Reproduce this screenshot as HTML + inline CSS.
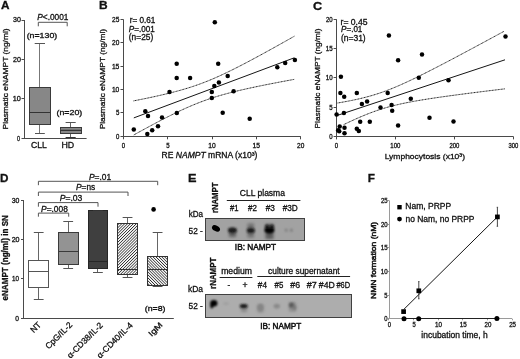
<!DOCTYPE html>
<html><head><meta charset="utf-8"><style>
html,body{margin:0;padding:0;background:#fff;}
body{width:520px;height:359px;overflow:hidden;}
svg{display:block;filter:blur(0.3px);}
text{font-family:"Liberation Sans", sans-serif;stroke:#111;stroke-width:0.3px;}
</style></head><body>
<svg width="520" height="359" viewBox="0 0 520 359">
<rect width="520" height="359" fill="#fff"/>
<text transform="translate(1.01,9.40) scale(1.059,1)" font-size="11.13" fill="#111" ><tspan font-weight="bold">A</tspan></text>
<text transform="translate(98.92,9.40) scale(1.075,1)" font-size="11.13" fill="#111" ><tspan font-weight="bold">B</tspan></text>
<text transform="translate(312.89,9.50) scale(1.139,1)" font-size="11.13" fill="#111" ><tspan font-weight="bold">C</tspan></text>
<text transform="translate(0.04,181.90) scale(1.052,1)" font-size="11.13" fill="#111" ><tspan font-weight="bold">D</tspan></text>
<text transform="translate(188.07,181.70) scale(1.145,1)" font-size="11.13" fill="#111" ><tspan font-weight="bold">E</tspan></text>
<text transform="translate(367.74,181.80) scale(1.057,1)" font-size="11.13" fill="#111" ><tspan font-weight="bold">F</tspan></text>
<line x1="24.50" y1="20.00" x2="24.50" y2="138.90" stroke="#4a4a4a" stroke-width="1" />
<line x1="23.50" y1="138.50" x2="86.60" y2="138.50" stroke="#4a4a4a" stroke-width="1" />
<line x1="21.50" y1="138.50" x2="24.00" y2="138.50" stroke="#4a4a4a" stroke-width="1" />
<line x1="21.50" y1="98.50" x2="24.00" y2="98.50" stroke="#4a4a4a" stroke-width="1" />
<line x1="21.50" y1="59.50" x2="24.00" y2="59.50" stroke="#4a4a4a" stroke-width="1" />
<line x1="21.50" y1="20.50" x2="24.00" y2="20.50" stroke="#4a4a4a" stroke-width="1" />
<text transform="translate(13.02,22.40) scale(1.046,1)" font-size="6.74" fill="#111" ><tspan>30</tspan></text>
<text transform="translate(12.94,61.87) scale(1.057,1)" font-size="6.74" fill="#111" ><tspan>20</tspan></text>
<text transform="translate(12.75,101.33) scale(1.083,1)" font-size="6.74" fill="#111" ><tspan>10</tspan></text>
<text transform="translate(16.98,140.80) scale(0.804,1)" font-size="6.74" fill="#111" ><tspan>0</tspan></text>
<line x1="39.50" y1="43.30" x2="39.50" y2="87.10" stroke="#777" stroke-width="1" />
<line x1="34.70" y1="43.50" x2="45.00" y2="43.50" stroke="#555" stroke-width="1" />
<line x1="39.50" y1="124.80" x2="39.50" y2="133.70" stroke="#777" stroke-width="1" />
<line x1="35.00" y1="133.50" x2="44.80" y2="133.50" stroke="#555" stroke-width="1" />
<rect x="29.5" y="87.5" width="21.0" height="37.0" fill="#878787" stroke="#3a3a3a" stroke-width="1" />
<line x1="29.30" y1="112.50" x2="50.30" y2="112.50" stroke="#333" stroke-width="1" />
<line x1="70.50" y1="122.00" x2="70.50" y2="127.50" stroke="#666" stroke-width="1" />
<line x1="65.60" y1="122.50" x2="75.70" y2="122.50" stroke="#555" stroke-width="1" />
<line x1="70.50" y1="133.40" x2="70.50" y2="138.00" stroke="#666" stroke-width="1" />
<line x1="65.60" y1="137.50" x2="75.70" y2="137.50" stroke="#333" stroke-width="1" />
<rect x="60.5" y="127.5" width="21.0" height="6.0" fill="#878787" stroke="#3a3a3a" stroke-width="1" />
<line x1="60.40" y1="130.50" x2="81.20" y2="130.50" stroke="#333" stroke-width="1" />
<line x1="60.40" y1="129.50" x2="81.20" y2="129.50" stroke="#666" stroke-width="0.6" />
<text transform="translate(26.67,37.90) scale(1.176,1)" font-size="7.49" fill="#111" ><tspan>(n=130)</tspan></text>
<text transform="translate(56.47,115.20) scale(1.180,1)" font-size="7.49" fill="#111" ><tspan>(n=20)</tspan></text>
<text transform="translate(37.25,19.80) scale(0.937,1)" font-size="8.88" fill="#111" ><tspan font-style="italic">P</tspan><tspan>&lt;.0001</tspan></text>
<path d="M38.3,26.3 V22.3 H67.2 V26.3" stroke="#555" stroke-width="1" fill="none" />
<text transform="translate(31.07,148.00) scale(1.012,1)" font-size="8.56" fill="#111" ><tspan>CLL</tspan></text>
<text transform="translate(61.39,148.00) scale(1.031,1)" font-size="8.56" fill="#111" ><tspan>HD</tspan></text>
<text transform="translate(7.60,129.47) rotate(-90) scale(1.060,1)" font-size="7.92" fill="#111"><tspan>Plasmatic eNAMPT (ng/ml)</tspan></text>
<line x1="123.50" y1="19.30" x2="123.50" y2="136.90" stroke="#4a4a4a" stroke-width="1" />
<line x1="122.80" y1="136.50" x2="300.80" y2="136.50" stroke="#4a4a4a" stroke-width="1" />
<line x1="120.50" y1="136.50" x2="123.30" y2="136.50" stroke="#4a4a4a" stroke-width="1" />
<text transform="translate(115.96,138.90) scale(0.896,1)" font-size="6.74" fill="#111" ><tspan>0</tspan></text>
<line x1="120.50" y1="112.50" x2="123.30" y2="112.50" stroke="#4a4a4a" stroke-width="1" />
<text transform="translate(115.96,115.48) scale(0.906,1)" font-size="6.74" fill="#111" ><tspan>5</tspan></text>
<line x1="120.50" y1="89.50" x2="123.30" y2="89.50" stroke="#4a4a4a" stroke-width="1" />
<text transform="translate(111.90,92.06) scale(0.994,1)" font-size="6.74" fill="#111" ><tspan>10</tspan></text>
<line x1="120.50" y1="66.50" x2="123.30" y2="66.50" stroke="#4a4a4a" stroke-width="1" />
<text transform="translate(111.89,68.64) scale(0.999,1)" font-size="6.74" fill="#111" ><tspan>15</tspan></text>
<line x1="120.50" y1="42.50" x2="123.30" y2="42.50" stroke="#4a4a4a" stroke-width="1" />
<text transform="translate(112.07,45.22) scale(0.970,1)" font-size="6.74" fill="#111" ><tspan>20</tspan></text>
<line x1="120.50" y1="19.50" x2="123.30" y2="19.50" stroke="#4a4a4a" stroke-width="1" />
<text transform="translate(112.07,21.80) scale(0.975,1)" font-size="6.74" fill="#111" ><tspan>25</tspan></text>
<line x1="123.50" y1="136.40" x2="123.50" y2="139.30" stroke="#4a4a4a" stroke-width="1" />
<text transform="translate(121.81,147.70) scale(0.896,1)" font-size="6.74" fill="#111" ><tspan>0</tspan></text>
<line x1="167.50" y1="136.40" x2="167.50" y2="139.30" stroke="#4a4a4a" stroke-width="1" />
<text transform="translate(166.13,147.70) scale(0.906,1)" font-size="6.74" fill="#111" ><tspan>5</tspan></text>
<line x1="212.50" y1="136.40" x2="212.50" y2="139.30" stroke="#4a4a4a" stroke-width="1" />
<text transform="translate(208.30,147.70) scale(0.994,1)" font-size="6.74" fill="#111" ><tspan>10</tspan></text>
<line x1="256.50" y1="136.40" x2="256.50" y2="139.30" stroke="#4a4a4a" stroke-width="1" />
<text transform="translate(252.62,147.70) scale(0.999,1)" font-size="6.74" fill="#111" ><tspan>15</tspan></text>
<line x1="300.50" y1="136.40" x2="300.50" y2="139.30" stroke="#4a4a4a" stroke-width="1" />
<text transform="translate(297.12,147.70) scale(0.970,1)" font-size="6.74" fill="#111" ><tspan>20</tspan></text>
<text transform="translate(161.62,158.00) scale(1.050,1)" font-size="8.13" fill="#111" ><tspan>RE </tspan><tspan font-style="italic">NAMPT</tspan><tspan> mRNA (x10³)</tspan></text>
<text transform="translate(129.67,23.10) scale(0.969,1)" font-size="8.45" fill="#111" ><tspan>r= 0.61</tspan></text>
<text transform="translate(128.76,31.60) scale(0.959,1)" font-size="8.45" fill="#111" ><tspan font-style="italic">P</tspan><tspan>=.001</tspan></text>
<text transform="translate(128.80,40.30) scale(0.991,1)" font-size="8.45" fill="#111" ><tspan>(n=25)</tspan></text>
<text transform="translate(105.00,129.37) rotate(-90) scale(1.057,1)" font-size="7.92" fill="#111"><tspan>Plasmatic eNAMPT (ng/ml)</tspan></text>
<path d="M133.8,117.90 L294.4,57.76" stroke="#151515" stroke-width="1.0" fill="none" />
<path d="M133.50,100.91 L136.18,100.38 L138.86,99.85 L141.54,99.31 L144.23,98.76 L146.91,98.21 L149.59,97.65 L152.27,97.07 L154.95,96.49 L157.63,95.90 L160.32,95.29 L163.00,94.67 L165.68,94.04 L168.36,93.39 L171.04,92.73 L173.72,92.04 L176.41,91.34 L179.09,90.61 L181.77,89.86 L184.45,89.08 L187.13,88.27 L189.81,87.43 L192.50,86.57 L195.18,85.67 L197.86,84.73 L200.54,83.76 L203.22,82.76 L205.90,81.72 L208.59,80.65 L211.27,79.54 L213.95,78.40 L216.63,77.23 L219.31,76.03 L221.99,74.80 L224.68,73.54 L227.36,72.26 L230.04,70.96 L232.72,69.64 L235.40,68.29 L238.08,66.93 L240.77,65.56 L243.45,64.17 L246.13,62.77 L248.81,61.35 L251.49,59.92 L254.17,58.49 L256.86,57.04 L259.54,55.59 L262.22,54.13 L264.90,52.66 L267.58,51.19 L270.26,49.71 L272.95,48.22 L275.63,46.73 L278.31,45.24 L280.99,43.74 L283.67,42.23 L286.36,40.73 L289.04,39.22 L291.72,37.70 L294.40,36.19" stroke="#1a1a1a" stroke-width="1.0" fill="none" stroke-dasharray="1.0,0.5"/>
<path d="M133.80,134.95 L136.48,133.47 L139.15,132.00 L141.83,130.53 L144.51,129.08 L147.18,127.63 L149.86,126.18 L152.54,124.75 L155.21,123.33 L157.89,121.92 L160.57,120.52 L163.24,119.13 L165.92,117.76 L168.60,116.41 L171.27,115.07 L173.95,113.75 L176.63,112.45 L179.30,111.17 L181.98,109.92 L184.66,108.70 L187.33,107.50 L190.01,106.33 L192.69,105.20 L195.36,104.09 L198.04,103.02 L200.72,101.99 L203.39,100.99 L206.07,100.02 L208.75,99.09 L211.42,98.19 L214.10,97.33 L216.78,96.50 L219.45,95.69 L222.13,94.92 L224.81,94.17 L227.48,93.44 L230.16,92.74 L232.84,92.05 L235.51,91.39 L238.19,90.74 L240.87,90.11 L243.54,89.49 L246.22,88.89 L248.90,88.30 L251.57,87.72 L254.25,87.15 L256.93,86.58 L259.60,86.03 L262.28,85.48 L264.96,84.94 L267.63,84.41 L270.31,83.89 L272.99,83.36 L275.66,82.85 L278.34,82.33 L281.02,81.83 L283.69,81.32 L286.37,80.82 L289.05,80.32 L291.72,79.83 L294.40,79.34" stroke="#1a1a1a" stroke-width="1.0" fill="none" stroke-dasharray="1.0,0.5"/>
<circle cx="214.8" cy="22.2" r="2.25" fill="#000"/>
<circle cx="176.7" cy="63.8" r="2.25" fill="#000"/>
<circle cx="218.2" cy="63.8" r="2.25" fill="#000"/>
<circle cx="176.7" cy="77.9" r="2.25" fill="#000"/>
<circle cx="190.1" cy="77.9" r="2.25" fill="#000"/>
<circle cx="227.7" cy="75.9" r="2.25" fill="#000"/>
<circle cx="218.9" cy="82.6" r="2.25" fill="#000"/>
<circle cx="214.3" cy="85.9" r="2.25" fill="#000"/>
<circle cx="169.5" cy="92.1" r="2.25" fill="#000"/>
<circle cx="211.8" cy="92.1" r="2.25" fill="#000"/>
<circle cx="233.6" cy="91.3" r="2.25" fill="#000"/>
<circle cx="211.8" cy="98.1" r="2.25" fill="#000"/>
<circle cx="176.8" cy="113.1" r="2.25" fill="#000"/>
<circle cx="222.7" cy="112.8" r="2.25" fill="#000"/>
<circle cx="162.0" cy="117.6" r="2.25" fill="#000"/>
<circle cx="145.3" cy="111.3" r="2.25" fill="#000"/>
<circle cx="148.0" cy="116.1" r="2.25" fill="#000"/>
<circle cx="133.8" cy="129.4" r="2.25" fill="#000"/>
<circle cx="147.3" cy="134.0" r="2.25" fill="#000"/>
<circle cx="152.2" cy="130.2" r="2.25" fill="#000"/>
<circle cx="158.0" cy="126.3" r="2.25" fill="#000"/>
<circle cx="249.7" cy="118.8" r="2.25" fill="#000"/>
<circle cx="277.3" cy="67.3" r="2.25" fill="#000"/>
<circle cx="285.2" cy="63.0" r="2.25" fill="#000"/>
<circle cx="294.9" cy="60.1" r="2.25" fill="#000"/>
<line x1="336.50" y1="19.20" x2="336.50" y2="137.00" stroke="#4a4a4a" stroke-width="1" />
<line x1="335.90" y1="136.50" x2="513.50" y2="136.50" stroke="#4a4a4a" stroke-width="1" />
<line x1="333.60" y1="136.50" x2="336.40" y2="136.50" stroke="#4a4a4a" stroke-width="1" />
<text transform="translate(329.36,138.90) scale(0.896,1)" font-size="6.74" fill="#111" ><tspan>0</tspan></text>
<line x1="333.60" y1="107.50" x2="336.40" y2="107.50" stroke="#4a4a4a" stroke-width="1" />
<text transform="translate(329.36,109.58) scale(0.906,1)" font-size="6.74" fill="#111" ><tspan>5</tspan></text>
<line x1="333.60" y1="77.50" x2="336.40" y2="77.50" stroke="#4a4a4a" stroke-width="1" />
<text transform="translate(325.84,80.25) scale(0.920,1)" font-size="6.74" fill="#111" ><tspan>10</tspan></text>
<line x1="333.60" y1="48.50" x2="336.40" y2="48.50" stroke="#4a4a4a" stroke-width="1" />
<text transform="translate(325.83,50.93) scale(0.925,1)" font-size="6.74" fill="#111" ><tspan>15</tspan></text>
<line x1="333.60" y1="19.50" x2="336.40" y2="19.50" stroke="#4a4a4a" stroke-width="1" />
<text transform="translate(326.00,21.60) scale(0.897,1)" font-size="6.74" fill="#111" ><tspan>20</tspan></text>
<line x1="336.50" y1="136.60" x2="336.50" y2="139.40" stroke="#4a4a4a" stroke-width="1" />
<text transform="translate(334.71,147.50) scale(0.896,1)" font-size="6.74" fill="#111" ><tspan>0</tspan></text>
<line x1="395.50" y1="136.60" x2="395.50" y2="139.40" stroke="#4a4a4a" stroke-width="1" />
<text transform="translate(390.28,147.50) scale(0.897,1)" font-size="6.74" fill="#111" ><tspan>100</tspan></text>
<line x1="454.50" y1="136.60" x2="454.50" y2="139.40" stroke="#4a4a4a" stroke-width="1" />
<text transform="translate(449.47,147.50) scale(0.883,1)" font-size="6.74" fill="#111" ><tspan>200</tspan></text>
<line x1="513.50" y1="136.60" x2="513.50" y2="139.40" stroke="#4a4a4a" stroke-width="1" />
<text transform="translate(508.56,147.50) scale(0.877,1)" font-size="6.74" fill="#111" ><tspan>300</tspan></text>
<text transform="translate(384.72,158.80) scale(1.045,1)" font-size="8.13" fill="#111" ><tspan>Lymphocytosis (x10³)</tspan></text>
<text transform="translate(340.54,24.80) scale(1.018,1)" font-size="8.45" fill="#111" ><tspan>r= 0.45</tspan></text>
<text transform="translate(341.06,32.20) scale(0.954,1)" font-size="8.45" fill="#111" ><tspan font-style="italic">P</tspan><tspan>=.01</tspan></text>
<text transform="translate(340.89,41.10) scale(1.008,1)" font-size="8.45" fill="#111" ><tspan>(n=31)</tspan></text>
<text transform="translate(320.00,128.46) rotate(-90) scale(1.049,1)" font-size="7.92" fill="#111"><tspan>Plasmatic eNAMPT (ng/ml)</tspan></text>
<path d="M337,115.50 L505,59.80" stroke="#151515" stroke-width="1.0" fill="none" />
<path d="M337.50,103.03 L340.27,102.56 L343.05,102.07 L345.82,101.56 L348.60,101.04 L351.38,100.49 L354.15,99.92 L356.93,99.32 L359.70,98.69 L362.48,98.03 L365.25,97.34 L368.02,96.61 L370.80,95.84 L373.57,95.02 L376.35,94.17 L379.12,93.26 L381.90,92.31 L384.68,91.32 L387.45,90.29 L390.23,89.21 L393.00,88.09 L395.77,86.94 L398.55,85.75 L401.32,84.53 L404.10,83.28 L406.88,82.00 L409.65,80.71 L412.43,79.39 L415.20,78.05 L417.98,76.70 L420.75,75.33 L423.52,73.94 L426.30,72.55 L429.07,71.14 L431.85,69.73 L434.62,68.31 L437.40,66.87 L440.18,65.43 L442.95,63.99 L445.73,62.54 L448.50,61.08 L451.27,59.62 L454.05,58.16 L456.82,56.69 L459.60,55.21 L462.38,53.74 L465.15,52.26 L467.93,50.77 L470.70,49.29 L473.48,47.80 L476.25,46.31 L479.02,44.82 L481.80,43.33 L484.57,41.83 L487.35,40.33 L490.12,38.83 L492.90,37.33 L495.68,35.83 L498.45,34.33 L501.23,32.82 L504.00,31.32" stroke="#1a1a1a" stroke-width="1.0" fill="none" stroke-dasharray="1.0,0.5"/>
<path d="M343.70,124.60 L346.39,123.32 L349.08,122.05 L351.76,120.80 L354.45,119.57 L357.14,118.37 L359.83,117.20 L362.52,116.06 L365.21,114.94 L367.89,113.87 L370.58,112.83 L373.27,111.83 L375.96,110.88 L378.65,109.96 L381.34,109.09 L384.02,108.26 L386.71,107.47 L389.40,106.72 L392.09,106.01 L394.78,105.33 L397.47,104.69 L400.15,104.08 L402.84,103.49 L405.53,102.93 L408.22,102.40 L410.91,101.88 L413.60,101.38 L416.28,100.90 L418.97,100.44 L421.66,99.99 L424.35,99.55 L427.04,99.12 L429.73,98.70 L432.41,98.29 L435.10,97.89 L437.79,97.49 L440.48,97.11 L443.17,96.72 L445.86,96.35 L448.55,95.98 L451.23,95.61 L453.92,95.25 L456.61,94.89 L459.30,94.53 L461.99,94.18 L464.68,93.83 L467.36,93.48 L470.05,93.14 L472.74,92.80 L475.43,92.46 L478.12,92.12 L480.81,91.78 L483.49,91.45 L486.18,91.12 L488.87,90.78 L491.56,90.45 L494.25,90.13 L496.94,89.80 L499.62,89.47 L502.31,89.15 L505.00,88.82" stroke="#1a1a1a" stroke-width="1.0" fill="none" stroke-dasharray="1.0,0.5"/>
<circle cx="388.9" cy="35.6" r="2.25" fill="#000"/>
<circle cx="398.1" cy="60.3" r="2.25" fill="#000"/>
<circle cx="422.0" cy="54.5" r="2.25" fill="#000"/>
<circle cx="418.8" cy="77.8" r="2.25" fill="#000"/>
<circle cx="448.5" cy="80.3" r="2.25" fill="#000"/>
<circle cx="505.5" cy="36.6" r="2.25" fill="#000"/>
<circle cx="410.8" cy="98.8" r="2.25" fill="#000"/>
<circle cx="429.5" cy="117.7" r="2.25" fill="#000"/>
<circle cx="453.5" cy="121.6" r="2.25" fill="#000"/>
<circle cx="340.9" cy="76.7" r="2.25" fill="#000"/>
<circle cx="340.4" cy="93.1" r="2.25" fill="#000"/>
<circle cx="344.2" cy="96.8" r="2.25" fill="#000"/>
<circle cx="356.8" cy="93.1" r="2.25" fill="#000"/>
<circle cx="387.7" cy="93.1" r="2.25" fill="#000"/>
<circle cx="367.1" cy="101.6" r="2.25" fill="#000"/>
<circle cx="361.9" cy="103.9" r="2.25" fill="#000"/>
<circle cx="380.5" cy="107.4" r="2.25" fill="#000"/>
<circle cx="391.6" cy="105.1" r="2.25" fill="#000"/>
<circle cx="392.2" cy="110.8" r="2.25" fill="#000"/>
<circle cx="336.6" cy="114.5" r="2.25" fill="#000"/>
<circle cx="343.9" cy="113.1" r="2.25" fill="#000"/>
<circle cx="339.7" cy="126.4" r="2.25" fill="#000"/>
<circle cx="338.2" cy="130.3" r="2.25" fill="#000"/>
<circle cx="339.2" cy="131.3" r="2.25" fill="#000"/>
<circle cx="344.5" cy="127.8" r="2.25" fill="#000"/>
<circle cx="344.5" cy="133.3" r="2.25" fill="#000"/>
<circle cx="360.2" cy="121.7" r="2.25" fill="#000"/>
<circle cx="369.8" cy="121.7" r="2.25" fill="#000"/>
<circle cx="356.8" cy="128.8" r="2.25" fill="#000"/>
<circle cx="358.8" cy="130.9" r="2.25" fill="#000"/>
<circle cx="398.1" cy="125.6" r="2.25" fill="#000"/>
<line x1="23.50" y1="200.10" x2="23.50" y2="318.80" stroke="#4a4a4a" stroke-width="1" />
<line x1="23.20" y1="318.50" x2="173.80" y2="318.50" stroke="#4a4a4a" stroke-width="1" />
<line x1="21.00" y1="318.50" x2="23.70" y2="318.50" stroke="#4a4a4a" stroke-width="1" />
<line x1="21.00" y1="278.50" x2="23.70" y2="278.50" stroke="#4a4a4a" stroke-width="1" />
<line x1="21.00" y1="239.50" x2="23.70" y2="239.50" stroke="#4a4a4a" stroke-width="1" />
<line x1="21.00" y1="200.50" x2="23.70" y2="200.50" stroke="#4a4a4a" stroke-width="1" />
<text transform="translate(11.72,202.50) scale(1.032,1)" font-size="6.74" fill="#111" ><tspan>30</tspan></text>
<text transform="translate(11.64,241.90) scale(1.057,1)" font-size="6.74" fill="#111" ><tspan>20</tspan></text>
<text transform="translate(12.03,281.30) scale(0.935,1)" font-size="6.74" fill="#111" ><tspan>10</tspan></text>
<text transform="translate(15.33,320.70) scale(0.989,1)" font-size="6.74" fill="#111" ><tspan>0</tspan></text>
<text transform="translate(7.70,300.52) rotate(-90) scale(0.996,1)" font-size="8.13" fill="#111"><tspan font-weight="bold">eNAMPT (ng/ml) in SN</tspan></text>
<defs>
<pattern id="h1" patternUnits="userSpaceOnUse" width="2.05" height="2.05" patternTransform="rotate(45)">
<rect width="2.05" height="2.05" fill="#fff"/><rect x="0" width="0.75" height="2.05" fill="#2a2a2a"/></pattern>
<pattern id="h2" patternUnits="userSpaceOnUse" width="2.05" height="2.05" patternTransform="rotate(-45)">
<rect width="2.05" height="2.05" fill="#fff"/><rect x="0" width="0.75" height="2.05" fill="#2a2a2a"/></pattern>
<filter id="blur05" x="-50%" y="-50%" width="200%" height="200%"><feGaussianBlur stdDeviation="0.45"/></filter>
<filter id="blur1" x="-50%" y="-50%" width="200%" height="200%"><feGaussianBlur stdDeviation="0.8"/></filter>
<filter id="blur2" x="-50%" y="-50%" width="200%" height="200%"><feGaussianBlur stdDeviation="1.4"/></filter>
</defs>
<line x1="38.50" y1="232.30" x2="38.50" y2="260.60" stroke="#666" stroke-width="1" />
<line x1="33.80" y1="232.50" x2="43.60" y2="232.50" stroke="#555" stroke-width="1" />
<line x1="38.50" y1="287.90" x2="38.50" y2="299.50" stroke="#666" stroke-width="1" />
<line x1="33.80" y1="299.50" x2="43.60" y2="299.50" stroke="#555" stroke-width="1" />
<rect x="28.5" y="260.5" width="20.0" height="27.0" fill="#fff" stroke="#555" stroke-width="1" />
<line x1="28.80" y1="271.50" x2="48.60" y2="271.50" stroke="#555" stroke-width="1" />
<line x1="68.50" y1="221.80" x2="68.50" y2="232.20" stroke="#666" stroke-width="1" />
<line x1="63.30" y1="221.50" x2="73.10" y2="221.50" stroke="#555" stroke-width="1" />
<line x1="68.50" y1="264.50" x2="68.50" y2="268.40" stroke="#666" stroke-width="1" />
<line x1="63.30" y1="268.50" x2="73.10" y2="268.50" stroke="#555" stroke-width="1" />
<rect x="58.5" y="232.5" width="20.0" height="32.0" fill="#939393" stroke="#3a3a3a" stroke-width="1" />
<line x1="58.20" y1="251.50" x2="78.20" y2="251.50" stroke="#3a3a3a" stroke-width="1" />
<line x1="97.50" y1="268.40" x2="97.50" y2="272.20" stroke="#666" stroke-width="1" />
<line x1="93.00" y1="272.50" x2="102.80" y2="272.50" stroke="#555" stroke-width="1" />
<rect x="88.5" y="210.5" width="19.0" height="58.0" fill="#3f3f3f" stroke="#262626" stroke-width="1" />
<line x1="88.00" y1="261.50" x2="107.80" y2="261.50" stroke="#262626" stroke-width="1" />
<line x1="93.00" y1="210.50" x2="102.80" y2="210.50" stroke="#333" stroke-width="1" />
<line x1="127.50" y1="217.10" x2="127.50" y2="223.80" stroke="#666" stroke-width="1" />
<line x1="122.65" y1="217.50" x2="132.45" y2="217.50" stroke="#555" stroke-width="1" />
<line x1="127.50" y1="274.20" x2="127.50" y2="277.30" stroke="#666" stroke-width="1" />
<line x1="122.65" y1="277.50" x2="132.45" y2="277.50" stroke="#555" stroke-width="1" />
<rect x="117.5" y="223.5" width="20.0" height="51.0" fill="url(#h1)" stroke="#333" stroke-width="1" />
<line x1="117.50" y1="269.50" x2="137.60" y2="269.50" stroke="#333" stroke-width="1" />
<line x1="157.50" y1="232.60" x2="157.50" y2="256.40" stroke="#666" stroke-width="1" />
<line x1="152.70" y1="232.50" x2="162.50" y2="232.50" stroke="#555" stroke-width="1" />
<line x1="157.50" y1="285.50" x2="157.50" y2="286.70" stroke="#666" stroke-width="1" />
<line x1="152.70" y1="286.50" x2="162.50" y2="286.50" stroke="#555" stroke-width="1" />
<rect x="147.5" y="256.5" width="20.0" height="29.0" fill="url(#h2)" stroke="#333" stroke-width="1" />
<line x1="147.60" y1="269.50" x2="167.60" y2="269.50" stroke="#333" stroke-width="1" />
<circle cx="153.6" cy="209.4" r="2.3" fill="#000"/>
<path d="M38.4,185.2 V181.3 H157.7 V185.2" stroke="#555" stroke-width="1" fill="none" />
<path d="M38.4,196.0 V192.1 H128.0 V196.0" stroke="#555" stroke-width="1" fill="none" />
<path d="M38.4,206.7 V202.6 H98.0 V206.7" stroke="#555" stroke-width="1" fill="none" />
<path d="M38.4,216.7 V213.1 H68.7 V216.7" stroke="#555" stroke-width="1" fill="none" />
<text transform="translate(88.95,179.60) scale(1.008,1)" font-size="8.35" fill="#111" ><tspan font-style="italic">P</tspan><tspan>=.01</tspan></text>
<text transform="translate(76.05,190.40) scale(0.999,1)" font-size="8.35" fill="#111" ><tspan font-style="italic">P</tspan><tspan>=ns</tspan></text>
<text transform="translate(59.74,201.40) scale(1.024,1)" font-size="8.35" fill="#111" ><tspan font-style="italic">P</tspan><tspan>=.03</tspan></text>
<text transform="translate(41.05,212.40) scale(1.003,1)" font-size="8.35" fill="#111" ><tspan font-style="italic">P</tspan><tspan>=.008</tspan></text>
<text transform="translate(144.77,311.10) scale(1.174,1)" font-size="7.49" fill="#111" ><tspan>(n=8)</tspan></text>
<text transform="translate(33.71,333.37) rotate(-45) scale(0.990,1)" font-size="8.5" fill="#111">NT</text>
<text transform="translate(48.69,349.60) rotate(-45) scale(0.990,1)" font-size="8.5" fill="#111">CpG/IL-2</text>
<text transform="translate(70.54,358.67) rotate(-45) scale(1.000,1)" font-size="8.5" fill="#111">α-CD38/IL-2</text>
<text transform="translate(100.37,358.69) rotate(-45) scale(1.000,1)" font-size="8.5" fill="#111">α-CD40/IL-4</text>
<text transform="translate(151.44,336.95) rotate(-45) scale(1.250,1)" font-size="7.9" fill="#111">IgM</text>
<rect x="205.5" y="218.5" width="99.0" height="22.0" fill="#a2a2a2" stroke="#404040" stroke-width="1.0" />
<g filter="url(#blur2)">
<rect x="229" y="229" width="7" height="8" fill="#5e5e5e"/>
<rect x="247.5" y="223.5" width="6.5" height="14" fill="#6e6e6e"/>
<rect x="265.5" y="224" width="8" height="15" fill="#5a5a5a"/>
</g>
<g filter="url(#blur1)">
</g><g filter="url(#blur05)">
<ellipse cx="216.0" cy="228.4" rx="4.3" ry="2.8" transform="rotate(28 216 228.4)" fill="#000"/>
</g><g filter="url(#blur1)">
<ellipse cx="232.4" cy="230.2" rx="4.4" ry="2.7" fill="#1c1c1c"/>
<ellipse cx="250.8" cy="230.6" rx="4.0" ry="2.5" fill="#1a1a1a"/>
<ellipse cx="269.4" cy="230.2" rx="4.9" ry="3.3" fill="#000"/>
<ellipse cx="267" cy="227" rx="1.8" ry="2.5" fill="#111"/>
<ellipse cx="272" cy="227" rx="1.8" ry="2.5" fill="#111"/>
<ellipse cx="286.2" cy="230.2" rx="1.6" ry="1.6" fill="#838383"/>
<ellipse cx="291.4" cy="230.2" rx="1.5" ry="1.7" fill="#808080"/>
</g>
<text transform="translate(188.68,216.60) scale(0.943,1)" font-size="8.56" fill="#111" ><tspan>kDa</tspan></text>
<text transform="translate(188.57,233.60) scale(0.969,1)" font-size="8.56" fill="#111" ><tspan>52 -</tspan></text>
<text transform="translate(218.40,213.11) rotate(-90) scale(0.897,1)" font-size="8.67" fill="#111"><tspan font-weight="bold">rNAMPT</tspan></text>
<text transform="translate(239.87,196.10) scale(1.020,1)" font-size="8.35" fill="#111" ><tspan>CLL plasma</tspan></text>
<line x1="226.80" y1="200.50" x2="300.40" y2="200.50" stroke="#222" stroke-width="1" />
<text transform="translate(229.96,211.00) scale(0.882,1)" font-size="8.77" fill="#111" ><tspan>#1</tspan></text>
<text transform="translate(248.06,211.00) scale(0.919,1)" font-size="8.77" fill="#111" ><tspan>#2</tspan></text>
<text transform="translate(265.76,211.00) scale(0.942,1)" font-size="8.77" fill="#111" ><tspan>#3</tspan></text>
<text transform="translate(282.66,211.00) scale(0.942,1)" font-size="8.77" fill="#111" ><tspan>#3D</tspan></text>
<text transform="translate(234.86,250.40) scale(0.930,1)" font-size="8.88" fill="#111" style="stroke-width:0.5px" ><tspan>IB: NAMPT</tspan></text>
<rect x="205.5" y="294.5" width="146.0" height="23.0" fill="#adadad" stroke="#404040" stroke-width="1.0" />
<g filter="url(#blur2)">
<rect x="241" y="306" width="6" height="6" fill="#888"/>
<rect x="257.5" y="304.5" width="6" height="8" fill="#8c8c8c"/>
<rect x="289" y="302.5" width="7" height="9" fill="#8a8a8a"/>
</g>
<g filter="url(#blur1)">
<ellipse cx="213.8" cy="303.2" rx="3.6" ry="3.3" fill="#000"/>
<ellipse cx="211.8" cy="305.8" rx="1.6" ry="2.6" fill="#000"/>
<ellipse cx="243.7" cy="305.9" rx="4.0" ry="2.0" fill="#151515"/>
<ellipse cx="226.0" cy="303.6" rx="3" ry="1.5" fill="#a0a0a0"/>
<ellipse cx="260.4" cy="307.5" rx="3.0" ry="3.4" fill="#858585"/>
<ellipse cx="276.8" cy="306.2" rx="3.2" ry="2.4" fill="#8a8a8a"/>
<ellipse cx="291.5" cy="305.0" rx="2.5" ry="2.6" fill="#5a5a5a"/>
<ellipse cx="294.5" cy="307.5" rx="1.8" ry="2.6" fill="#7a7a7a"/>
</g>
<text transform="translate(187.95,292.00) scale(0.991,1)" font-size="8.56" fill="#111" ><tspan>kDa</tspan></text>
<text transform="translate(188.57,309.40) scale(0.969,1)" font-size="8.56" fill="#111" ><tspan>52 -</tspan></text>
<text transform="translate(215.50,288.92) rotate(-90) scale(0.915,1)" font-size="8.67" fill="#111"><tspan font-weight="bold">rNAMPT</tspan></text>
<text transform="translate(221.14,273.80) scale(1.037,1)" font-size="8.35" fill="#111" ><tspan>medium</tspan></text>
<line x1="219.60" y1="277.50" x2="252.40" y2="277.50" stroke="#222" stroke-width="1" />
<text transform="translate(227.43,288.00) scale(0.978,1)" font-size="8.35" fill="#111" ><tspan>-</tspan></text>
<text transform="translate(242.57,288.20) scale(1.037,1)" font-size="8.35" fill="#111" ><tspan>+</tspan></text>
<text transform="translate(268.07,273.80) scale(1.003,1)" font-size="8.35" fill="#111" ><tspan>culture supernatant</tspan></text>
<line x1="257.30" y1="276.50" x2="350.10" y2="276.50" stroke="#222" stroke-width="1" />
<text transform="translate(257.86,288.30) scale(0.933,1)" font-size="8.77" fill="#111" ><tspan>#4</tspan></text>
<text transform="translate(274.56,288.30) scale(0.899,1)" font-size="8.77" fill="#111" ><tspan>#5</tspan></text>
<text transform="translate(290.26,288.30) scale(1.006,1)" font-size="8.77" fill="#111" ><tspan>#6</tspan></text>
<text transform="translate(306.75,288.30) scale(1.027,1)" font-size="8.77" fill="#111" ><tspan>#7</tspan></text>
<text transform="translate(318.86,288.30) scale(0.993,1)" font-size="8.77" fill="#111" ><tspan>#4D</tspan></text>
<text transform="translate(336.46,288.30) scale(0.852,1)" font-size="8.77" fill="#111" ><tspan>#6D</tspan></text>
<text transform="translate(260.16,328.50) scale(0.926,1)" font-size="8.88" fill="#111" style="stroke-width:0.5px" ><tspan>IB: NAMPT</tspan></text>
<line x1="389.50" y1="200.60" x2="389.50" y2="318.80" stroke="#9a9a9a" stroke-width="1" />
<line x1="389.30" y1="318.50" x2="512.10" y2="318.50" stroke="#9a9a9a" stroke-width="1" />
<line x1="387.80" y1="318.50" x2="389.30" y2="318.50" stroke="#9a9a9a" stroke-width="1" />
<text transform="translate(384.37,321.30) scale(0.909,1)" font-size="6.42" fill="#1a1a1a" ><tspan>0</tspan></text>
<line x1="387.80" y1="295.50" x2="389.30" y2="295.50" stroke="#9a9a9a" stroke-width="1" />
<text transform="translate(384.36,297.66) scale(0.918,1)" font-size="6.42" fill="#1a1a1a" ><tspan>5</tspan></text>
<line x1="387.80" y1="271.50" x2="389.30" y2="271.50" stroke="#9a9a9a" stroke-width="1" />
<text transform="translate(380.74,274.02) scale(0.966,1)" font-size="6.42" fill="#1a1a1a" ><tspan>10</tspan></text>
<line x1="387.80" y1="247.50" x2="389.30" y2="247.50" stroke="#9a9a9a" stroke-width="1" />
<text transform="translate(380.73,250.38) scale(0.971,1)" font-size="6.42" fill="#1a1a1a" ><tspan>15</tspan></text>
<line x1="387.80" y1="224.50" x2="389.30" y2="224.50" stroke="#9a9a9a" stroke-width="1" />
<text transform="translate(380.90,226.74) scale(0.942,1)" font-size="6.42" fill="#1a1a1a" ><tspan>20</tspan></text>
<line x1="387.80" y1="200.50" x2="389.30" y2="200.50" stroke="#9a9a9a" stroke-width="1" />
<text transform="translate(380.90,203.10) scale(0.947,1)" font-size="6.42" fill="#1a1a1a" ><tspan>25</tspan></text>
<line x1="388.50" y1="318.80" x2="388.50" y2="320.30" stroke="#9a9a9a" stroke-width="1" />
<text transform="translate(387.87,327.20) scale(0.909,1)" font-size="6.42" fill="#1a1a1a" ><tspan>0</tspan></text>
<line x1="413.50" y1="318.80" x2="413.50" y2="320.30" stroke="#9a9a9a" stroke-width="1" />
<text transform="translate(412.48,327.20) scale(0.918,1)" font-size="6.42" fill="#1a1a1a" ><tspan>5</tspan></text>
<line x1="438.50" y1="318.80" x2="438.50" y2="320.30" stroke="#9a9a9a" stroke-width="1" />
<text transform="translate(435.12,327.20) scale(0.981,1)" font-size="6.42" fill="#1a1a1a" ><tspan>10</tspan></text>
<line x1="462.50" y1="318.80" x2="462.50" y2="320.30" stroke="#9a9a9a" stroke-width="1" />
<text transform="translate(459.74,327.20) scale(0.986,1)" font-size="6.42" fill="#1a1a1a" ><tspan>15</tspan></text>
<line x1="487.50" y1="318.80" x2="487.50" y2="320.30" stroke="#9a9a9a" stroke-width="1" />
<text transform="translate(484.52,327.20) scale(0.957,1)" font-size="6.42" fill="#1a1a1a" ><tspan>20</tspan></text>
<line x1="512.50" y1="318.80" x2="512.50" y2="320.30" stroke="#9a9a9a" stroke-width="1" />
<text transform="translate(509.14,327.20) scale(0.962,1)" font-size="6.42" fill="#1a1a1a" ><tspan>25</tspan></text>
<text transform="translate(421.35,337.90) scale(1.015,1)" font-size="8.35" fill="#111" ><tspan>incubation time, h</tspan></text>
<text transform="translate(375.60,298.88) rotate(-90) scale(1.059,1)" font-size="8.03" fill="#111" style="stroke-width:0.5px"><tspan>NMN formation (nM)</tspan></text>
<rect x="397.3" y="205.0" width="4.4" height="4.4" fill="#000"/>
<text transform="translate(405.32,209.00) scale(0.995,1)" font-size="8.56" fill="#111" ><tspan>Nam, PRPP</tspan></text>
<circle cx="399.5" cy="219.1" r="2.4" fill="#000"/>
<text transform="translate(405.45,221.70) scale(0.988,1)" font-size="8.56" fill="#111" ><tspan>no Nam, no PRPP</tspan></text>
<line x1="403.70" y1="309.50" x2="497.40" y2="216.90" stroke="#151515" stroke-width="1.0" />
<line x1="404.00" y1="318.50" x2="497.00" y2="318.50" stroke="#222" stroke-width="1.0" />
<line x1="418.80" y1="281.60" x2="418.80" y2="298.80" stroke="#333" stroke-width="0.9" />
<line x1="418.10" y1="281.60" x2="419.50" y2="281.60" stroke="#333" stroke-width="0.8" />
<line x1="418.10" y1="298.80" x2="419.50" y2="298.80" stroke="#333" stroke-width="0.8" />
<line x1="497.40" y1="207.30" x2="497.40" y2="226.30" stroke="#333" stroke-width="0.9" />
<line x1="496.70" y1="207.30" x2="498.10" y2="207.30" stroke="#333" stroke-width="0.8" />
<line x1="496.70" y1="226.30" x2="498.10" y2="226.30" stroke="#333" stroke-width="0.8" />
<rect x="401.25" y="309.25" width="4.7" height="4.7" fill="#000"/>
<rect x="416.45" y="288.45" width="4.7" height="4.7" fill="#000"/>
<rect x="495.05" y="214.55" width="4.7" height="4.7" fill="#000"/>
<circle cx="404.0" cy="318.8" r="2.5" fill="#000"/>
<circle cx="418.7" cy="318.8" r="2.5" fill="#000"/>
<circle cx="496.9" cy="318.6" r="2.5" fill="#000"/>
</svg>
</body></html>
